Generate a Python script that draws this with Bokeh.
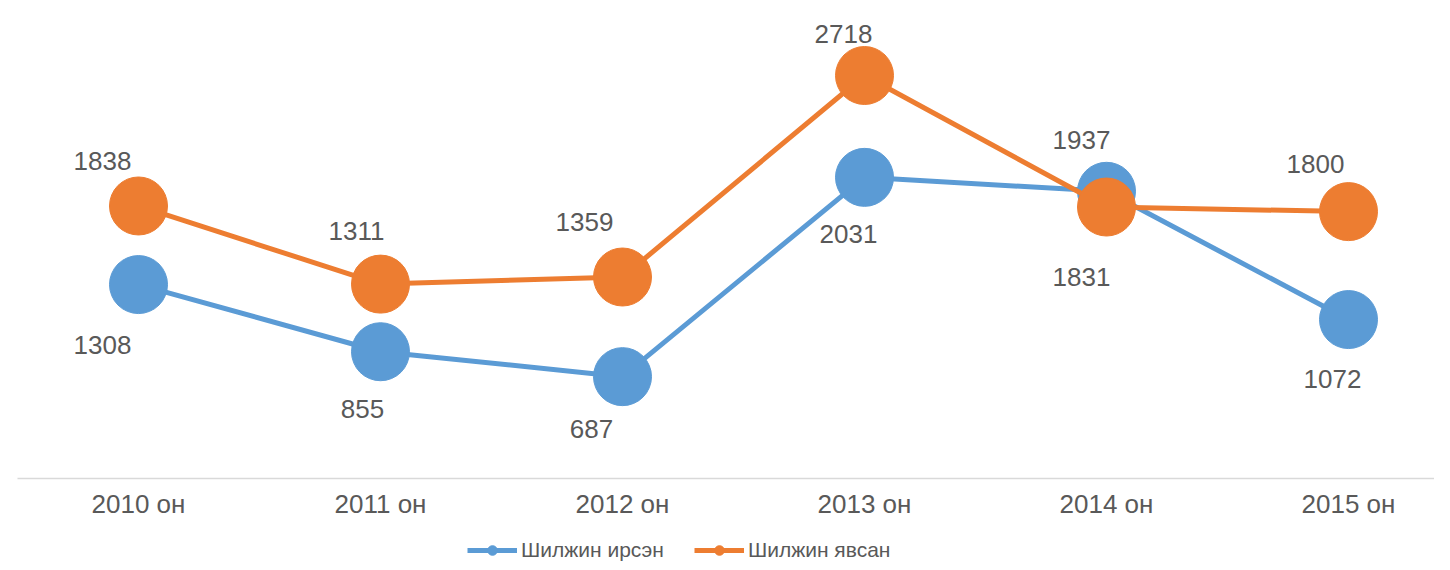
from bokeh.plotting import figure
from bokeh.models import ColumnDataSource, Range1d, Legend, LegendItem
from bokeh.layouts import column
from bokeh.embed import file_html
from bokeh.resources import INLINE
from bokeh.core.properties import value

# ---- data ----
years = ["2010 он", "2011 он", "2012 он", "2013 он", "2014 он", "2015 он"]
arrived = [1308, 855, 687, 2031, 1937, 1072]      # Шилжин ирсэн
departed = [1838, 1311, 1359, 2718, 1831, 1800]   # Шилжин явсан
series_names = ["Шилжин ирсэн", "Шилжин явсан"]

# label placement tweaks (screen px, y positive = down)
arr_dx = [-36, -18, -31, -16, -25, -16]
arr_dy = [60, 57, 52, 57, -51, 59]
dep_dx = [-36, -24, -38, -21, -25, -33]
dep_dy = [-45, -53, -55, -42, 70, -48]

BLUE = "#5B9BD5"
ORANGE = "#ED7D31"
TXT = "#595959"
FONT = "Liberation Sans"

xs = list(range(len(years)))

W = 1434
LEFT, TOP, FRAME_H, BOTTOM = 17, 8, 470, 52
p = figure(width=W, height=TOP + FRAME_H + BOTTOM, output_backend="svg", toolbar_location=None,
           x_range=Range1d(-0.5, -0.5 + (W - LEFT) / 242), y_range=Range1d(0, FRAME_H / 0.14827),
           min_border_left=LEFT, min_border_right=0, min_border_top=TOP, min_border_bottom=BOTTOM)
p.outline_line_color = None
p.xgrid.visible = False
p.ygrid.visible = False
p.yaxis.visible = False

ax = p.xaxis[0]
ax.ticker = xs
ax.major_label_overrides = {i: y for i, y in enumerate(years)}
ax.major_tick_line_color = None
ax.minor_tick_line_color = None
ax.axis_line_color = "#D9D9D9"
ax.axis_line_width = 1.5
ax.major_label_text_font = FONT
ax.major_label_text_font_size = "26px"
ax.major_label_text_color = TXT
ax.major_label_standoff = 4

src_a = ColumnDataSource(dict(x=xs, y=arrived, t=[str(v) for v in arrived], dx=arr_dx, dy=arr_dy))
src_d = ColumnDataSource(dict(x=xs, y=departed, t=[str(v) for v in departed], dx=dep_dx, dy=dep_dy))

la = p.line("x", "y", source=src_a, line_color=BLUE, line_width=5)
ma = p.scatter("x", "y", source=src_a, size=58, fill_color=BLUE, line_color=BLUE)
ld = p.line("x", "y", source=src_d, line_color=ORANGE, line_width=5)
md = p.scatter("x", "y", source=src_d, size=58, fill_color=ORANGE, line_color=ORANGE)

for src in (src_a, src_d):
    p.text("x", "y", text="t", source=src, x_offset="dx", y_offset="dy",
           text_align="center", text_baseline="middle",
           text_font=value(FONT), text_font_size="26px", text_color=TXT)

# ---- legend strip below the chart ----
LEG_H = 32
q = figure(width=W, height=LEG_H, output_backend="svg", toolbar_location=None,
           x_range=Range1d(0, 1), y_range=Range1d(0, 1),
           min_border_left=0, min_border_right=0, min_border_top=0, min_border_bottom=0)
q.outline_line_color = None
q.xgrid.visible = False
q.ygrid.visible = False
q.xaxis.visible = False
q.yaxis.visible = False
# legend-only glyphs (points lie outside the visible range)
qa_l = q.line([-5, -4], [-5, -5], line_color=BLUE, line_width=5)
qa_m = q.scatter([-5], [-5], size=10, fill_color=BLUE, line_color=BLUE)
qd_l = q.line([-5, -4], [-5, -5], line_color=ORANGE, line_width=5)
qd_m = q.scatter([-5], [-5], size=10, fill_color=ORANGE, line_color=ORANGE)

legend = Legend(items=[LegendItem(label=series_names[0], renderers=[qa_l, qa_m]),
                       LegendItem(label=series_names[1], renderers=[qd_l, qd_m])],
                location=(450, 0), orientation="horizontal",
                padding=0, margin=0, spacing=30, label_standoff=4,
                glyph_width=50, glyph_height=24,
                border_line_color=None, background_fill_alpha=0,
                label_text_font=FONT, label_text_font_size="21px",
                label_text_color=TXT)
q.add_layout(legend, "center")

open("out.html", "w").write(file_html(column(p, q, spacing=0), INLINE))
